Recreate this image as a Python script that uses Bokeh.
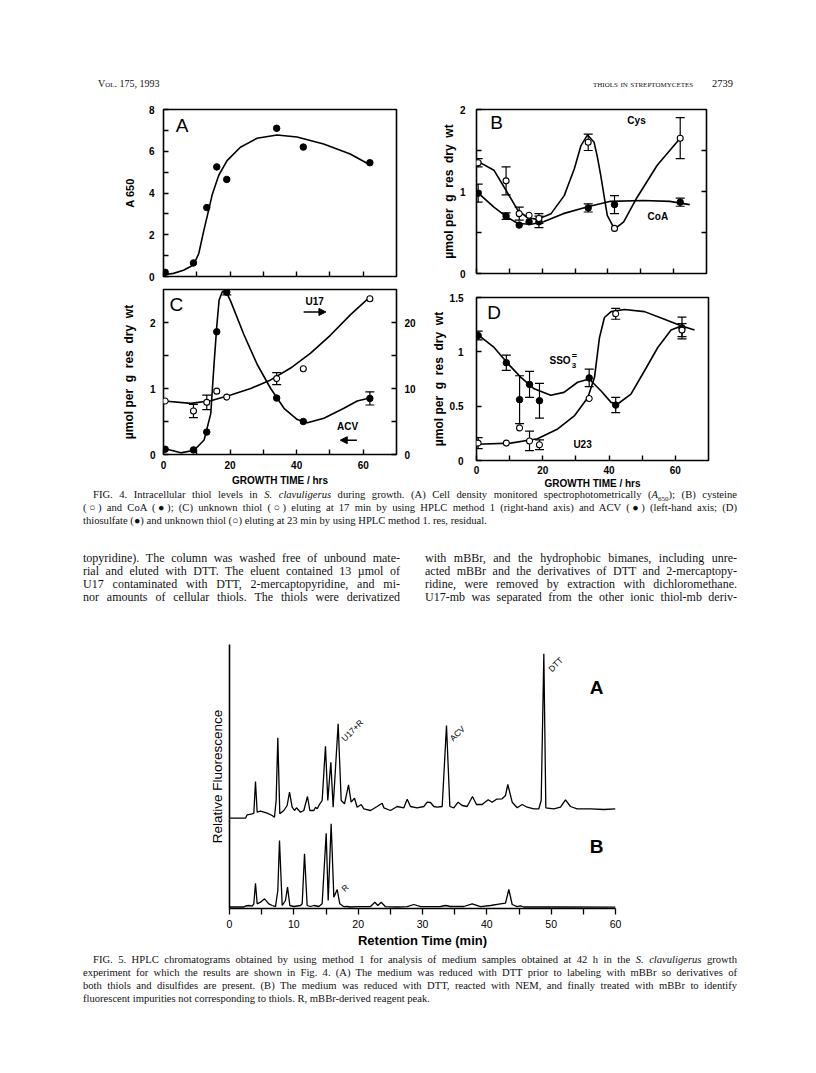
from bokeh.plotting import figure
from bokeh.models import (Range1d, LinearAxis, FixedTicker, Whisker, TeeHead, ColumnDataSource,
                          Arrow, NormalHead, Div, CustomJSTickFormatter)
from bokeh.layouts import column, row
from bokeh.embed import file_html
from bokeh.resources import INLINE
from bokeh.core.properties import value
import math

SANS = "Liberation Sans"
SERIF = "Liberation Serif"

# ---------------- FIG. 4 data ----------------
time_h = [0.5, 9, 13, 16, 19, 34, 42, 62]

# (A) cell density
a_a650 = [0.2, 0.65, 3.3, 5.25, 4.65, 7.1, 6.2, 5.45]
a_fit_time = [0, 3, 6, 9, 10.6, 12.1, 13.3, 14.6, 16.6, 19.1, 23.1, 28.1, 34.1, 40.1, 48.1, 56.1, 62.1]
a_fit_a650 = [0.08, 0.15, 0.3, 0.55, 1.1, 2.2, 3.0, 3.9, 4.85, 5.55, 6.19, 6.62, 6.78, 6.68, 6.35, 5.87, 5.34]

# (B) cysteine (open) and CoA (filled)
b_cys = [1.35, 1.13, 0.73, 0.71, 0.67, 1.60, 0.55, 1.65]
b_cys_err = [0.05, 0.17, 0.08, 0.0, 0.06, 0.10, 0.0, 0.25]
b_coa = [0.98, 0.70, 0.59, 0.63, 0.63, 0.80, 0.84, 0.87]
b_coa_err = [0.11, 0.04, 0.0, 0.0, 0.07, 0.05, 0.11, 0.05]
b_cys_fit_time = [0.3, 5.3, 9.2, 12.6, 15.6, 18.5, 22.7, 26.7, 29.8, 31.8, 33.8, 35.8, 36.8, 37.8, 39.8, 42, 44.8, 48.9, 55, 61.6]
b_cys_fit = [1.37, 1.26, 1.0, 0.77, 0.68, 0.66, 0.73, 0.95, 1.28, 1.56, 1.69, 1.60, 1.42, 1.2, 0.71, 0.54, 0.63, 0.93, 1.32, 1.63]
b_coa_fit_time = [0.3, 5.3, 9.2, 12.6, 16.7, 20.4, 26.4, 33.6, 40.8, 50.8, 58.8, 64.9]
b_coa_fit = [0.99, 0.81, 0.69, 0.61, 0.60, 0.63, 0.73, 0.81, 0.88, 0.89, 0.88, 0.84]

# (C) ACV (filled, left axis) and U17 (open, right axis)
c_acv = [0.08, 0.07, 0.34, 1.86, 2.46, 0.855, 0.50, 0.85]
c_acv_err = [0, 0, 0, 0, 0.04, 0, 0, 0.10]
c_u17 = [8.1, 6.6, 7.9, 9.6, 8.7, 11.5, 13.0, 23.6]
c_u17_err = [0, 1.0, 1.1, 0, 0, 0.9, 0, 0]
c_acv_fit_time = [0.2, 5.2, 9.2, 12.2, 14.2, 15.2, 16.0, 16.7, 17.7, 18.7, 20.2, 24.2, 28.2, 32.2, 36.2, 40.2, 43.2, 48.2, 54.2, 58.2, 62.2]
c_acv_fit = [0.09, 0.025, 0.065, 0.22, 0.62, 1.38, 1.94, 2.34, 2.47, 2.48, 2.32, 1.81, 1.36, 1.0, 0.70, 0.53, 0.48, 0.55, 0.70, 0.81, 0.86]
c_u17_fit_time = [0.2, 8.2, 14.2, 20.2, 26.2, 32.2, 38.2, 44.2, 50.2, 56.2, 62.2]
c_u17_fit = [8.1, 7.75, 8.15, 9.0, 10.0, 11.3, 13.1, 15.35, 18.1, 21.2, 23.95]

# (D) thiosulfate (filled) and U23 (open)
d_sso3 = [1.15, 0.90, 0.56, 0.70, 0.55, 0.76, 0.51, 1.22]
d_sso3_err = [0.04, 0.07, 0.22, 0.12, 0.16, 0.08, 0.07, 0.10]
d_u23 = [0.16, 0.16, 0.30, 0.18, 0.145, 0.57, 1.35, 1.20]
d_u23_err = [0.05, 0, 0, 0.09, 0.045, 0, 0.05, 0.06]
d_sso3_fit_time = [0.3, 5.3, 9.4, 13.4, 17.4, 22.4, 26.4, 30.5, 34, 37.6, 40.6, 42.6, 46.6, 50.7, 54.7, 58.7, 62]
d_sso3_fit = [1.16, 1.04, 0.894, 0.765, 0.66, 0.60, 0.627, 0.72, 0.75, 0.64, 0.535, 0.52, 0.61, 0.826, 1.04, 1.2, 1.24]
d_u23_fit_time = [0.3, 10.3, 18.4, 24.5, 29.5, 33.6, 35.6, 37.1, 38.6, 40.6, 44.6, 50.7, 56.7, 61.7, 65.8]
d_u23_fit = [0.15, 0.16, 0.20, 0.29, 0.41, 0.58, 0.765, 1.13, 1.316, 1.37, 1.39, 1.37, 1.30, 1.24, 1.20]

# ---------------- FIG. 5 data (chromatograms) ----------------
rt_a = [0, 2.49, 2.75, 3.52, 3.78, 4.04, 4.30, 4.82, 5.85, 6.63, 6.99, 7.25, 7.51, 7.82, 8.45, 8.96, 9.33, 9.74,
        10.1, 10.41, 11.04, 11.55, 12.12, 12.49, 13.11, 13.37, 13.63, 14.04, 14.4, 14.92, 15.28, 15.75, 16.11,
        16.89, 17.36, 17.88, 18.5, 18.91, 19.43, 19.84, 20.47, 20.88, 21.92, 22.95, 23.73, 23.99, 25.03, 26.06,
        27.1, 27.62, 28.13, 29.17, 30.21, 30.73, 31.24, 31.76, 32.28, 33.06, 33.73, 34.25, 34.87, 35.54, 36.17,
        36.94, 37.77, 38.39, 39.27, 40.21, 40.83, 41.5, 42.38, 42.9, 43.26, 43.94, 44.72, 45.49, 46.27, 47.31,
        48.08, 48.45, 48.86, 49.17, 50.41, 51.45, 52.23, 53.0, 54.04, 56.11, 58.19, 60.0]
sig_a = [90.3, 90.3, 93.7, 94.7, 95.3, 127, 96.3, 97.3, 95.3, 93, 91.3, 108, 170.7, 94.7, 98, 103, 116.3, 101.3,
         98, 100.7, 96.3, 98, 112, 98, 98, 101.3, 99.7, 104.7, 108, 162.3, 108, 146.3, 101.3,
         184.7, 108, 104.7, 123.7, 106.3, 110.3, 101.3, 104, 99.7, 98, 102, 105.3, 100.7, 98, 102,
         100.7, 109.3, 102, 100.7, 102, 106.3, 106, 102, 101.3, 102, 183, 102, 100.7, 106.3, 103,
         102, 112, 104, 104, 108.7, 106.3, 109.3, 109.7, 113, 124, 106.3, 100.7, 104, 101.3, 99.7,
         99.7, 108, 254.7, 100.7, 99.7, 101.3, 108.7, 102, 99.7, 99.7, 99, 99.7]
rt_b = [0, 2.23, 2.49, 3.01, 3.52, 3.78, 4.04, 4.3, 4.82, 5.44, 6.11, 6.63, 7.15, 7.51, 7.77, 8.19, 8.7, 9.02,
        9.38, 10.0, 11.04, 11.3, 11.66, 12.07, 12.59, 13.11, 13.89, 14.4, 15.03, 15.34, 15.8, 16.22, 16.74,
        17.15, 17.77, 18.29, 18.81, 19.84, 20.88, 21.92, 22.59, 23.06, 23.58, 24.25, 26.06, 27.62, 28.65,
        29.69, 31.24, 32.8, 33.58, 34.35, 36.42, 37.72, 39.02, 40.57, 42.12, 42.9, 43.42, 43.94, 44.72,
        45.23, 45.75, 50.93, 60.0]
sig_b = [1.5, 1.5, 2.5, 3, 2.3, 4.7, 25.3, 4.7, 6.3, 9.7, 4.7, 3, 1.8, 18, 68, 3, 8, 21.3,
         3, 2, 3, 4.7, 54.7, 3, 2, 3, 2, 4.7, 75.3, 8, 84.7, 11.3, 19,
         4.7, 1.8, 2, 1.5, 1.8, 1.8, 2, 6.3, 3, 6.3, 1.8, 1.5, 1.8, 4,
         1.8, 1.8, 2, 3, 2, 2, 4.7, 1.8, 3, 4.7, 5.3, 19, 4, 1.8,
         2.7, 1.5, 1.5, 1.3]

UMOL = "µmol per\u00a0 g\u00a0 res\u00a0 dry\u00a0 wt"

# ---------------- helpers ----------------
def base_fig(x_max, y_max, fw, fh, left, right, top, bottom):
    p = figure(frame_width=fw, frame_height=fh, x_range=Range1d(0, x_max), y_range=Range1d(0, y_max),
               output_backend="svg", toolbar_location=None, title_location=None, frame_align=False,
               min_border_left=left, min_border_right=right, min_border_top=top, min_border_bottom=bottom)
    p.xgrid.visible = False
    p.ygrid.visible = False
    p.outline_line_color = "black"
    p.outline_line_width = 1.6
    p.background_fill_color = None
    p.border_fill_color = None
    return p


def style_axis(ax, ticks, minor=(), show=True, standoff=8, size="10px", bold=True):
    ax.ticker = FixedTicker(ticks=list(ticks), minor_ticks=list(minor))
    ax.major_tick_in = 5
    ax.major_tick_out = 0
    ax.minor_tick_in = 5
    ax.minor_tick_out = 0
    ax.major_tick_line_width = 1.4
    ax.minor_tick_line_width = 1.4
    ax.major_tick_line_color = "black"
    ax.minor_tick_line_color = "black"
    ax.axis_line_color = None
    if show:
        ax.formatter = CustomJSTickFormatter(code="return String(tick);")
        ax.major_label_text_font = SANS
        ax.major_label_text_font_style = "bold" if bold else "normal"
        ax.major_label_text_font_size = size
        ax.major_label_text_color = "black"
        ax.major_label_standoff = standoff
    else:
        ax.formatter = CustomJSTickFormatter(code="return '';")
        ax.major_label_text_font_size = "0px"
        ax.major_label_standoff = 0


def axis_title(ax, text, size="12px", standoff=8, bold=True):
    ax.axis_label = text
    ax.axis_label_text_font = SANS
    ax.axis_label_text_font_style = "bold" if bold else "normal"
    ax.axis_label_text_font_size = size
    ax.axis_label_text_color = "black"
    ax.axis_label_standoff = standoff


def errbars(p, t, y, err, range_name="default"):
    xs = [a for a, e in zip(t, err) if e > 0]
    ys = [b for b, e in zip(y, err) if e > 0]
    es = [e for e in err if e > 0]
    src = ColumnDataSource(dict(x=xs, up=[a + e for a, e in zip(ys, es)], lo=[a - e for a, e in zip(ys, es)]))
    w = Whisker(source=src, base="x", upper="up", lower="lo", dimension="height",
                line_width=1.2, line_color="black",
                upper_head=TeeHead(size=9, line_width=1.2, line_color="black"),
                lower_head=TeeHead(size=9, line_width=1.2, line_color="black"),
                y_range_name=range_name)
    p.add_layout(w)


def label(p, x, y, txt, size="10px", bold=True, angle=0.0, y_range_name="default"):
    p.text(x=[x], y=[y], text=[txt], text_font=value(SANS), text_font_size=size,
           text_font_style="bold" if bold else "normal", text_color="black",
           text_align="center", text_baseline="middle", angle=angle, y_range_name=y_range_name)


def filled(p, t, y, **kw):
    p.scatter(t, y, marker="circle", size=6.5, fill_color="black", line_color="black", **kw)


def opened(p, t, y, **kw):
    p.scatter(t, y, marker="circle", size=6, fill_color="white", line_color="black", line_width=1.1, **kw)


XT = [0, 10, 20, 30, 40, 50, 60]

# ---------------- Panel A ----------------
pA = base_fig(70, 8, 233, 167, 155, 10, 5, 9)
style_axis(pA.yaxis[0], [0, 2, 4, 6, 8], minor=[1, 3, 5, 7], standoff=9)
axis_title(pA.yaxis[0], "A 650", size="11px", standoff=10)
style_axis(pA.xaxis[0], XT, show=False)
pA.line(a_fit_time, a_fit_a650, line_color="black", line_width=1.6)
filled(pA, time_h, a_a650)
label(pA, 5.6, 7.23, "A", size="19px", bold=False)

# ---------------- Panel B ----------------
pB = base_fig(70, 2, 230, 164, 70, 30, 5, 12)
style_axis(pB.yaxis[0], [0, 1, 2], minor=[0.5, 1.5], standoff=11)
axis_title(pB.yaxis[0], UMOL, size="12px", standoff=1)
style_axis(pB.xaxis[0], XT, show=False)
rB = LinearAxis()
style_axis(rB, [0.5, 1, 1.5], show=False)
pB.add_layout(rB, "right")
pB.line(b_cys_fit_time, b_cys_fit, line_color="black", line_width=1.6)
pB.line(b_coa_fit_time, b_coa_fit, line_color="black", line_width=1.6)
errbars(pB, time_h, b_cys, b_cys_err)
errbars(pB, time_h, b_coa, b_coa_err)
filled(pB, time_h, b_coa)
opened(pB, time_h, b_cys)
label(pB, 6.1, 1.84, "B", size="19px", bold=False)
label(pB, 48.7, 1.86, "Cys")
label(pB, 55.2, 0.70, "CoA")

# ---------------- Panel C ----------------
pC = base_fig(70, 2.5, 233, 165, 155, 30, 4, 37)
pC.extra_y_ranges = {"right": Range1d(0, 25)}
style_axis(pC.yaxis[0], [0, 1, 2], minor=[0.5, 1.5], standoff=8)
axis_title(pC.yaxis[0], UMOL, size="12px", standoff=11)
style_axis(pC.xaxis[0], [0, 20, 40, 60], minor=[10, 30, 50], standoff=6)
axis_title(pC.xaxis[0], "GROWTH TIME / hrs", size="10px", standoff=3)
rC = LinearAxis(y_range_name="right")
style_axis(rC, [0, 10, 20], minor=[5, 15], standoff=8)
pC.add_layout(rC, "right")
pC.line(c_acv_fit_time, c_acv_fit, line_color="black", line_width=1.6)
pC.line(c_u17_fit_time, c_u17_fit, line_color="black", line_width=1.6, y_range_name="right")
errbars(pC, time_h, c_acv, c_acv_err)
errbars(pC, time_h, c_u17, c_u17_err, range_name="right")
filled(pC, time_h, c_acv)
opened(pC, time_h, c_u17, y_range_name="right")
label(pC, 3.9, 2.27, "C", size="19px", bold=False)
label(pC, 45.4, 2.32, "U17")
label(pC, 55.3, 0.42, "ACV")
pC.add_layout(Arrow(end=NormalHead(size=7, fill_color="black", line_color="black"),
                    x_start=42.1, y_start=2.16, x_end=48.8, y_end=2.16, line_width=1.5, line_color="black"))
pC.add_layout(Arrow(end=NormalHead(size=7, fill_color="black", line_color="black"),
                    x_start=58.1, y_start=0.217, x_end=53.1, y_end=0.217, line_width=1.5, line_color="black"))

# ---------------- Panel D ----------------
pD = base_fig(70, 1.5, 232, 163, 50, 30, 12, 31)
style_axis(pD.yaxis[0], [0, 0.5, 1, 1.5], standoff=13)
axis_title(pD.yaxis[0], UMOL, size="12px", standoff=1)
style_axis(pD.xaxis[0], [0, 20, 40, 60], minor=[10, 30, 50], standoff=5)
axis_title(pD.xaxis[0], "GROWTH TIME / hrs", size="10px", standoff=1)
pD.line(d_sso3_fit_time, d_sso3_fit, line_color="black", line_width=1.6)
pD.line(d_u23_fit_time, d_u23_fit, line_color="black", line_width=1.6)
errbars(pD, time_h, d_sso3, d_sso3_err)
errbars(pD, time_h, d_u23, d_u23_err)
filled(pD, time_h, d_sso3)
opened(pD, time_h, d_u23)
label(pD, 5.3, 1.36, "D", size="19px", bold=False)
label(pD, 25.2, 0.918, "SSO")
label(pD, 29.5, 0.962, "=", size="9px")
label(pD, 29.4, 0.87, "3", size="8px")
label(pD, 32.0, 0.147, "U23")

# ---------------- FIG. 5 ----------------
p5 = figure(frame_width=386, frame_height=264, x_range=Range1d(0, 60), y_range=Range1d(0, 264),
            output_backend="svg", toolbar_location=None, title_location=None, frame_align=False,
            min_border_left=221, min_border_right=30, min_border_top=4, min_border_bottom=38)
p5.xgrid.visible = False
p5.ygrid.visible = False
p5.outline_line_color = None
p5.background_fill_color = None
p5.border_fill_color = None
xa = p5.xaxis[0]
xa.ticker = FixedTicker(ticks=XT, minor_ticks=[5, 15, 25, 35, 45, 55])
xa.major_tick_in = 0
xa.major_tick_out = 6
xa.minor_tick_in = 0
xa.minor_tick_out = 6
xa.major_tick_line_width = 1.3
xa.minor_tick_line_width = 1.3
xa.axis_line_width = 1.6
xa.axis_line_color = "black"
xa.major_tick_line_color = "black"
xa.minor_tick_line_color = "black"
xa.formatter = CustomJSTickFormatter(code="return String(tick);")
xa.major_label_text_font = SANS
xa.major_label_text_font_size = "10.5px"
xa.major_label_text_color = "black"
xa.major_label_standoff = 5
axis_title(xa, "Retention Time (min)", size="13px", standoff=2)
ya = p5.yaxis[0]
ya.ticker = FixedTicker(ticks=[])
ya.major_tick_in = 0
ya.major_tick_out = 0
ya.minor_tick_in = 0
ya.minor_tick_out = 0
ya.axis_line_width = 1.6
ya.axis_line_color = "black"
ya.formatter = CustomJSTickFormatter(code="return '';")
ya.major_label_text_font_size = "0px"
ya.major_label_standoff = 0
axis_title(ya, "Relative Fluorescence", size="13.5px", standoff=5, bold=False)
p5.line(rt_a, sig_a, line_color="black", line_width=1.3)
p5.line(rt_b, sig_b, line_color="black", line_width=1.3)
q = math.pi / 4
label(p5, 19.1, 178, "U17+R", size="8.5px", bold=False, angle=q)
label(p5, 35.4, 175, "ACV", size="8.5px", bold=False, angle=q)
label(p5, 50.7, 244, "DTT", size="8.5px", bold=False, angle=q)
label(p5, 17.95, 20.5, "R", size="8.5px", bold=False, angle=q)
label(p5, 57.05, 221, "A", size="19px", bold=True)
label(p5, 57.05, 62, "B", size="19px", bold=True)

# ---------------- text blocks ----------------
def line(left, top, width, html, size, lh, mode="justify"):
    st = (f"position:absolute;left:{left}px;top:{top}px;width:{width}px;font-family:'{SERIF}';"
          f"font-size:{size}px;line-height:{lh}px;color:#111;")
    if mode == "justify":
        st += "text-align:justify;text-align-last:justify;"
    else:
        st += "text-align:left;"
    return f"<div style=\"{st}\">{html}</div>"


def block(height, parts):
    return Div(text=f"<div style=\"position:relative;width:800px;height:{height}px;\">" + "".join(parts) + "</div>",
               width=800, height=height, margin=0, styles={"overflow": "visible"})


hdr = block(96, [
    f"<div style=\"position:absolute;left:90px;top:70px;font-family:'{SERIF}';font-size:10px;line-height:12px;font-variant:small-caps;color:#111;\">Vol. 175, 1993</div>",
    f"<div style=\"position:absolute;left:585px;top:70px;font-family:'{SERIF}';font-size:10px;line-height:12px;font-variant:small-caps;color:#111;\">thiols in streptomycetes</div>",
    f"<div style=\"position:absolute;left:704px;top:70px;font-family:'{SERIF}';font-size:10.5px;line-height:12px;color:#111;\">2739</div>",
])

CS = 10.6
cap4 = [
    line(85, -3, 644, "FIG. 4. Intracellular thiol levels in <i>S. clavuligerus</i> during growth. (A) Cell density monitored spectrophotometrically (<i>A</i><sub style='font-size:7px'>650</sub>); (B) cysteine", CS, 14),
    line(75, 10, 654, "(○) and CoA (●); (C) unknown thiol (○) eluting at 17 min by using HPLC method 1 (right-hand axis) and ACV (●) (left-hand axis; (D)", CS, 14),
    line(75, 23, 654, "thiosulfate (●) and unknown thiol (○) eluting at 23 min by using HPLC method 1. res, residual.", CS, 14, mode="left"),
]
BS = 12
body_left = ["topyridine). The column was washed free of unbound mate-",
             "rial and eluted with DTT. The eluent contained 13 µmol of",
             "U17 contaminated with DTT, 2-mercaptopyridine, and mi-",
             "nor amounts of cellular thiols. The thiols were derivatized"]
body_right = ["with mBBr, and the hydrophobic bimanes, including unre-",
              "acted mBBr and the derivatives of DTT and 2-mercaptopy-",
              "ridine, were removed by extraction with dichloromethane.",
              "U17-mb was separated from the other ionic thiol-mb deriv-"]
body = []
for i, (l, r) in enumerate(zip(body_left, body_right)):
    top = 59.5 + 13 * i
    body.append(line(75, top, 317, l, BS, 14))
    body.append(line(417, top, 312, r, BS, 14))
mid = block(149, cap4 + body)

cap5 = block(64, [
    line(85, 3, 644, "FIG. 5. HPLC chromatograms obtained by using method 1 for analysis of medium samples obtained at 42 h in the <i>S. clavuligerus</i> growth", CS, 14),
    line(75, 16, 654, "experiment for which the results are shown in Fig. 4. (A) The medium was reduced with DTT prior to labeling with mBBr so derivatives of", CS, 14),
    line(75, 29, 654, "both thiols and disulfides are present. (B) The medium was reduced with DTT, reacted with NEM, and finally treated with mBBr to identify", CS, 14),
    line(75, 42, 654, "fluorescent impurities not corresponding to thiols. R, mBBr-derived reagent peak.", CS, 14, mode="left"),
])

page = column(hdr, row(pA, pB), row(pC, pD), mid, p5, cap5, margin=(8, 8, 8, 8))

open("out.html", "w").write(file_html(page, INLINE))
